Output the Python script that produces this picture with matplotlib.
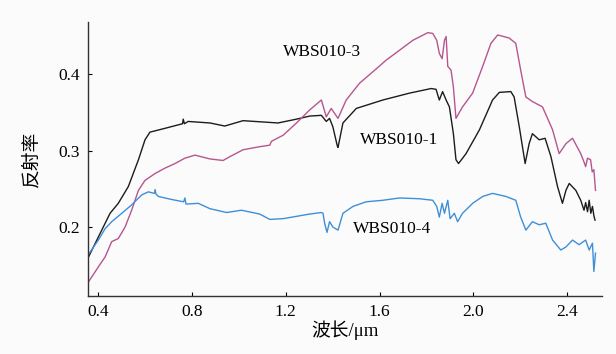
import matplotlib
matplotlib.use("Agg")
import matplotlib.pyplot as plt

plt.rcParams['font.family'] = ['Liberation Serif', 'Noto Sans CJK SC', 'DejaVu Sans']
plt.rcParams['axes.unicode_minus'] = False

# WBS010-1 (black)
x1 = [0.356, 0.401, 0.451, 0.486, 0.529, 0.572, 0.600, 0.621, 0.685, 0.760, 0.763, 0.768, 0.784,
      0.877, 0.940, 1.018, 1.118, 1.167, 1.246, 1.302, 1.352, 1.373, 1.387, 1.401, 1.420, 1.423,
      1.444, 1.501, 1.614, 1.728, 1.820, 1.841, 1.855, 1.869, 1.884, 1.898, 1.915, 1.926, 1.937,
      1.969, 2.026, 2.082, 2.111, 2.160, 2.174, 2.196, 2.221, 2.238, 2.252, 2.281, 2.306, 2.331,
      2.359, 2.380, 2.395, 2.409, 2.437, 2.458, 2.472, 2.479, 2.487, 2.494, 2.501, 2.508, 2.514, 2.519]
y1 = [0.159, 0.187, 0.218, 0.231, 0.253, 0.288, 0.314, 0.324, 0.329, 0.335, 0.341, 0.335, 0.338,
      0.336, 0.332, 0.339, 0.337, 0.336, 0.341, 0.345, 0.346, 0.338, 0.342, 0.331, 0.306, 0.304,
      0.336, 0.355, 0.366, 0.375, 0.381, 0.380, 0.366, 0.377, 0.366, 0.357, 0.322, 0.288, 0.283,
      0.296, 0.327, 0.366, 0.376, 0.377, 0.370, 0.331, 0.283, 0.309, 0.322, 0.314, 0.316, 0.292,
      0.253, 0.231, 0.248, 0.257, 0.248, 0.235, 0.222, 0.232, 0.220, 0.235, 0.218, 0.227, 0.215, 0.209]

# WBS010-3 (magenta)
x3 = [0.356, 0.401, 0.430, 0.458, 0.486, 0.515, 0.543, 0.572, 0.600, 0.643, 0.685, 0.728, 0.770,
      0.813, 0.877, 0.933, 0.962, 1.018, 1.089, 1.132, 1.139, 1.189, 1.246, 1.302, 1.352, 1.373,
      1.394, 1.423, 1.458, 1.515, 1.572, 1.628, 1.685, 1.742, 1.806, 1.827, 1.844, 1.855, 1.867,
      1.877, 1.884, 1.891, 1.905, 1.915, 1.926, 1.954, 1.997, 2.040, 2.075, 2.104, 2.153, 2.181,
      2.202, 2.224, 2.252, 2.295, 2.338, 2.366, 2.395, 2.423, 2.458, 2.472, 2.479, 2.487, 2.500,
      2.507, 2.514, 2.521]
y3 = [0.127, 0.148, 0.161, 0.181, 0.185, 0.200, 0.222, 0.248, 0.261, 0.270, 0.277, 0.283, 0.290,
      0.294, 0.289, 0.287, 0.292, 0.301, 0.305, 0.307, 0.312, 0.320, 0.336, 0.353, 0.366, 0.344,
      0.355, 0.342, 0.366, 0.388, 0.403, 0.418, 0.431, 0.444, 0.454, 0.453, 0.444, 0.427, 0.420,
      0.444, 0.449, 0.410, 0.405, 0.383, 0.342, 0.357, 0.375, 0.410, 0.440, 0.451, 0.447, 0.440,
      0.405, 0.370, 0.364, 0.357, 0.327, 0.296, 0.309, 0.316, 0.296, 0.285, 0.279, 0.290, 0.288,
      0.272, 0.275, 0.248]

# WBS010-4 (blue)
x4 = [0.356, 0.401, 0.430, 0.458, 0.501, 0.543, 0.586, 0.614, 0.640, 0.643, 0.647, 0.657, 0.714,
      0.765, 0.770, 0.775, 0.827, 0.877, 0.948, 1.011, 1.089, 1.132, 1.189, 1.246, 1.302, 1.352,
      1.359, 1.366, 1.376, 1.387, 1.401, 1.423, 1.444, 1.487, 1.543, 1.614, 1.685, 1.770, 1.827,
      1.844, 1.855, 1.867, 1.877, 1.891, 1.901, 1.919, 1.933, 1.954, 1.997, 2.040, 2.082, 2.139,
      2.181, 2.202, 2.224, 2.252, 2.281, 2.309, 2.338, 2.373, 2.395, 2.423, 2.451, 2.479, 2.494,
      2.508, 2.514, 2.521]
y4 = [0.163, 0.183, 0.198, 0.207, 0.218, 0.229, 0.242, 0.246, 0.244, 0.249, 0.243, 0.240, 0.236,
      0.233, 0.238, 0.230, 0.231, 0.224, 0.219, 0.222, 0.217, 0.210, 0.211, 0.214, 0.217, 0.219,
      0.218, 0.205, 0.193, 0.207, 0.200, 0.196, 0.218, 0.227, 0.233, 0.235, 0.238, 0.237, 0.235,
      0.227, 0.213, 0.231, 0.218, 0.235, 0.211, 0.218, 0.207, 0.218, 0.231, 0.240, 0.244, 0.240,
      0.235, 0.213, 0.196, 0.207, 0.203, 0.205, 0.183, 0.170, 0.174, 0.183, 0.177, 0.183, 0.170,
      0.179, 0.142, 0.166]

labels = ['WBS010-1', 'WBS010-3', 'WBS010-4']
label_pos = [(1.685, 0.314), (1.353, 0.429), (1.655, 0.197)]
colors = ['#1c1c1c', '#b6568f', '#3f8fd8']

xticks = [0.4, 0.8, 1.2, 1.6, 2.0, 2.4]
xticklabels = ['0.4', '0.8', '1.2', '1.6', '2.0', '2.4']
yticks = [0.2, 0.3, 0.4]
yticklabels = ['0.2', '0.3', '0.4']

fig = plt.figure(figsize=(6.16, 3.54), dpi=100, facecolor='#fbfbfb')
ax = fig.add_axes([0.1429, 0.164, 0.977 - 0.1429, 0.938 - 0.164])
ax.set_facecolor('#fbfbfb')

for xs, ys, c in zip([x1, x3, x4], [y1, y3, y4], colors):
    ax.plot(xs, ys, color=c, lw=1.0)

for lab, (lx, ly) in zip(labels, label_pos):
    ax.text(lx, ly, lab, ha='center', va='center', fontsize=12.5,
            family=['Liberation Serif'])

ax.set_xlim(0.357, 2.548)
ax.set_ylim(0.110, 0.468)
ax.set_xticks(xticks)
ax.set_xticklabels(xticklabels)
ax.set_yticks(yticks)
ax.set_yticklabels(yticklabels)
ax.tick_params(direction='in', length=3, width=0.8, labelsize=12.5, pad=6)
for s in ['top', 'right']:
    ax.spines[s].set_visible(False)
for s in ['left', 'bottom']:
    ax.spines[s].set_linewidth(1.0)
    ax.spines[s].set_color('#333333')

ax.set_xlabel('波长/μm', fontsize=13.5, family=['Liberation Serif', 'Noto Sans CJK SC'], labelpad=0)
ax.set_ylabel('反射率', fontsize=13.5, family=['Noto Sans CJK SC'], labelpad=12)

fig.savefig('out.png', dpi=100, facecolor=fig.get_facecolor())
